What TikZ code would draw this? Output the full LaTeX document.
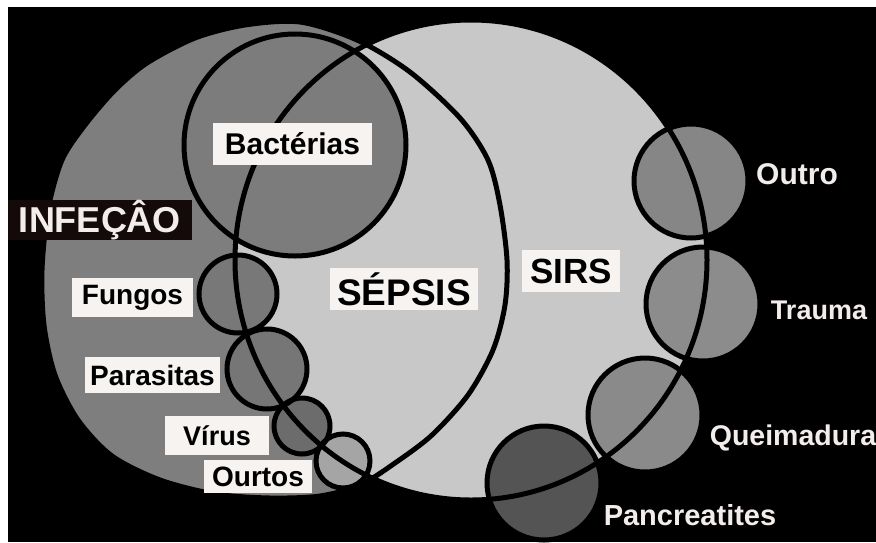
\documentclass[tikz,border=0pt]{standalone}
\usepackage{fontspec}
\setmainfont{Liberation Sans}
\definecolor{infgray}{RGB}{126,126,126}
\definecolor{sirsgray}{RGB}{200,200,200}
\definecolor{bacgray}{RGB}{124,124,124}
\definecolor{funggray}{RGB}{120,120,120}
\definecolor{paragray}{RGB}{118,118,118}
\definecolor{virgray}{RGB}{108,108,108}
\definecolor{ourgray}{RGB}{165,165,165}
\definecolor{outgray}{RGB}{134,134,134}
\definecolor{traugray}{RGB}{140,140,140}
\definecolor{queigray}{RGB}{138,138,138}
\definecolor{pancgray}{RGB}{84,84,84}
\definecolor{boxwhite}{RGB}{246,243,240}
\definecolor{boxblack}{RGB}{20,10,10}
\definecolor{txtwhite}{RGB}{242,236,234}
\tikzset{
  outline/.style={line width=5pt, draw=black},
  wbox/.style={fill=boxwhite, text=black, inner sep=0pt, anchor=center},
  wtext/.style={text=txtwhite, inner sep=0pt, anchor=center},
}
\newcommand{\fs}[1]{\fontsize{#1}{#1}\selectfont\bfseries}
\begin{document}
\begin{tikzpicture}[x=1pt,y=-1pt]
\useasboundingbox (0,0) rectangle (876,542);
\fill[white] (0,0) rectangle (876,542);
\fill[black] (8,7) rectangle (876,542);
% INFECAO region
\fill[infgray] plot[smooth cycle] coordinates {(300,22) (357,40) (410,72) (460,118) (488,160) (500,205) (507,260) (505,305) (493,350) (468,395) (432,435) (395,463) (360,485) (320,496) (270,498) (215,494) (160,480) (112,456) (78,420) (55,375) (44,325) (42,270) (48,210) (62,160) (85,125) (115,90) (147,63) (195,38) (245,25)};
% SIRS region
\fill[sirsgray] (471,260) ellipse [x radius=236, y radius=240];
% small circles fills
\fill[bacgray] (295,145) circle [radius=111];
\fill[funggray] (238,294) circle [radius=39];
\fill[paragray] (267,369) circle [radius=40];
\fill[virgray] (302,426) circle [radius=28];
\fill[ourgray] (343,461) circle [radius=27];
\fill[outgray] (691,181) circle [radius=57];
\fill[traugray] (703,304) circle [radius=57];
\fill[queigray] (645,415) circle [radius=57];
\fill[pancgray] (544,483) circle [radius=57];
% small circle outlines
\draw[outline] (295,145) circle [radius=111];
\draw[outline] (238,294) circle [radius=39];
\draw[outline] (267,369) circle [radius=40];
\draw[outline] (302,426) circle [radius=28];
\draw[outline] (343,461) circle [radius=27];
\draw[outline] (691,181) circle [radius=57];
\draw[outline] (703,304) circle [radius=57];
\draw[outline] (645,415) circle [radius=57];
\draw[outline] (544,483) circle [radius=57];
% big outlines
\draw[outline] (471,260) ellipse [x radius=236, y radius=240];
\draw[outline] plot[smooth cycle] coordinates {(300,22) (357,40) (410,72) (460,118) (488,160) (500,205) (507,260) (505,305) (493,350) (468,395) (432,435) (395,463) (360,485) (320,496) (270,498) (215,494) (160,480) (112,456) (78,420) (55,375) (44,325) (42,270) (48,210) (62,160) (85,125) (115,90) (147,63) (195,38) (245,25)};
% labels
\node[wbox, minimum width=159pt, minimum height=42pt, font=\fs{30}] (bac) at (292.5,144) {Bactérias};
\node[wbox, fill=boxblack, text=txtwhite, minimum width=184pt, minimum height=40pt, font=\fs{36}] (inf) at (100,220) {INFEÇÂO};
\node[wbox, minimum width=121pt, minimum height=39pt, font=\fs{28}] (fun) at (132.5,297.5) {Fungos};
\node[wbox, minimum width=135pt, minimum height=36pt, font=\fs{28}] (par) at (152.5,375) {Parasitas};
\node[wbox, minimum width=104pt, minimum height=39pt, font=\fs{27}] (vir) at (217,435.5) {Vírus};
\node[wbox, minimum width=108pt, minimum height=33pt, font=\fs{28}] (our) at (258,476.5) {Ourtos};
\node[wbox, minimum width=148pt, minimum height=42pt, font=\fs{37}] (sep) at (404,289) {SÉPSIS};
\node[wbox, minimum width=98pt, minimum height=42pt, font=\fs{35}] (sirs) at (571,271) {SIRS};
\node[wtext, font=\fs{30}] (outro) at (797,174) {Outro};
\node[wtext, font=\fs{27}] (trauma) at (819,310) {Trauma};
\node[wtext, font=\fs{28.5}] (quei) at (793,438) {Queimadura};
\node[wtext, font=\fs{29}] (panc) at (690,515) {Pancreatites};
\end{tikzpicture}
\end{document}
